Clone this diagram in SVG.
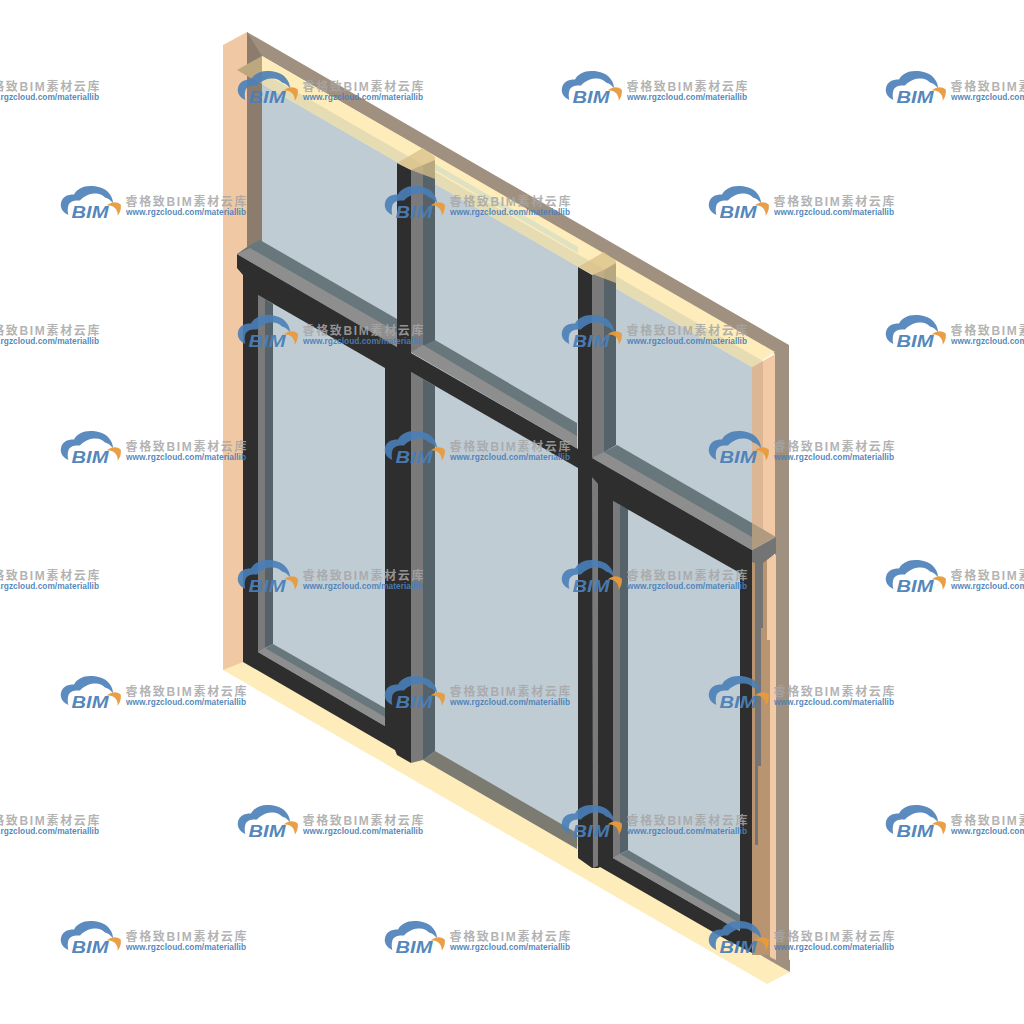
<svg xmlns="http://www.w3.org/2000/svg" width="1024" height="1024" viewBox="0 0 1024 1024">
<style>
.dark{fill:#2e2e2e}.gray{fill:#8e8e8e}.mgray{fill:#7a7a7a}.slate{fill:#566269}.band{fill:#68777c}
.wt{font-family:"Liberation Sans","Noto Sans CJK SC",sans-serif;font-weight:700}
</style>
<defs>
<g id="wm">
<path d="M7.300 30C1 27-1 22 0 18C1 12 6 9.500 13 9.500C16 4 22 1 29 1C38 1 46 3.500 50 11C51.500 14 52 16 52 18C49 15 47 13 44 12.500C41 9 37 8 33 8.500C27 9 22 12 19 15.500C14 15 9 16 7.500 20C6.500 23 6.500 27 7.300 30Z" fill="#4a7fb8" fill-opacity=".9"/>
<path d="M45.700 20.500C49 17.500 55 15.500 59.700 19.500C60.500 23 59 28 56.700 30.700C57 27 55.500 23.500 52 21.500C50 20.500 48 20.300 45.700 20.500Z" fill="#e89a3c" fill-opacity=".95"/>
<text class="wt" x="10.500" y="33" font-size="16.500" font-style="italic" fill="#4a7fb8" fill-opacity=".95" textLength="37" lengthAdjust="spacingAndGlyphs">BIM</text>
<text class="wt" x="64.500" y="21" font-size="12" fill="#a6a6a6" fill-opacity=".85" textLength="121">睿格致BIM素材云库</text>
<text class="wt" x="65" y="29.500" font-size="9.500" fill="#4a7fb8" fill-opacity=".95" textLength="120" lengthAdjust="spacingAndGlyphs">www.rgzcloud.com/materiallib</text>
</g>
</defs>
<rect width="1024" height="1024" fill="#fff"/>

<!-- glass -->
<polygon points="258,70 752,355 752,960 258,675" fill="#c0ccd4"/>

<!-- wall floor (yellow) and left face -->
<polygon points="223,670 243,655 790,968 790,972 767,984" fill="#feecba"/>
<polygon points="223,45 247,32 247,660 243,662 223,670" fill="#f0c9a4"/>

<!-- top of wall, jambs -->
<polygon points="247,32 789,345 789,971 775,963 775,354 262,56 262,250 247,250" fill="#a09080"/>
<polygon points="247,32 262,56 262,250 247,250" fill="#8b7c6e"/>
<polygon points="757,945 790,960 790,972 757,953" fill="#a09080"/>
<polygon points="262,56 775,352 752,367 262,84" fill="#feecba"/>
<polygon points="262,72 763,361 752,367 262,84" fill="#e6dcb4"/>
<polygon points="237,70 262,56 262,84 247,76" fill="#bda77f"/>

<!-- centre window sill -->
<polygon points="435,751 577,833 577,849 423,760" fill="#7b7b72"/>

<!-- upper mullions -->
<polygon points="397,163 411,170 411,360 397,360" class="dark"/>
<polygon points="411,170 423,165 423,352 411,352" class="mgray"/>
<polygon points="423,165 435,160 435,342 423,346" class="slate"/>
<polygon points="578,267 592,275 592,465 578,465" class="dark"/>
<polygon points="592,275 604,270 604,452 592,458" class="mgray"/>
<polygon points="604,270 616,263 616,445 604,452" class="slate"/>

<!-- translucent head over mullions -->
<polygon points="397,163 423,148 435,157 435,179 411,170" fill="#d8c088" fill-opacity=".75"/>
<polygon points="578,267 604,252 616,261 616,283 592,274" fill="#d8c088" fill-opacity=".75"/>
<polygon points="435,164 578,247 578,253 435,170" fill="#b8d4cc" fill-opacity=".45"/>

<!-- lower frame: left, centre, right -->
<polygon points="243,270 258,285 258,652 385,726 385,360 411,360 411,763 397,755 395,750 243,662" class="dark"/>
<polygon points="411,372 423,379 423,760 411,763" class="mgray"/>
<polygon points="423,379 435,386 435,751 423,760" class="slate"/>
<polygon points="578,460 592,470 592,868 578,858" class="dark"/>
<polygon points="592,470 598,470 598,868 592,868" class="dark"/>
<polygon points="598,475 613,495 613,858 740,931 740,560 752,552 752,953 727,940 600,867 598,868" class="dark"/>
<polygon points="592,477 598,480 598,866 593,868" class="mgray"/>

<!-- window reveals -->
<polygon points="258,295 265,299 265,648 258,652" class="mgray"/>
<polygon points="265,299 273,304 273,644 265,648" class="slate"/>
<polygon points="273,644 385,708 385,726 258,652" class="band"/>
<polygon points="265,648 385,717 385,726 258,652" class="gray"/>
<polygon points="613,501 620,505 620,854 613,858" class="mgray"/>
<polygon points="620,505 628,509 628,850 620,854" class="slate"/>
<polygon points="628,850 740,915 740,931 613,858" class="band"/>
<polygon points="620,854 740,923 740,931 613,858" class="gray"/>

<!-- transom -->
<polygon points="237,254 411,354 411,372 385,368 258,295 243,275 237,268" class="dark"/>
<polygon points="397,345 578,449 578,468 411,372" class="dark"/>
<polygon points="578,449 752,550 752,580 740,573 613,501 592,477 578,468" class="dark"/>
<polygon points="247,247 260,240 397,319 397,347 237,254" class="band"/>
<polygon points="250,248 397,332 397,347 237,254" class="gray"/>
<polygon points="435,340 577,423 577,448 411,352" class="band"/>
<polygon points="423,345 577,436 577,448 411,352" class="gray"/>
<polygon points="617,445 752,523 752,550 592,458" class="band"/>
<polygon points="604,452 752,537 752,550 592,458" class="gray"/>

<!-- right jamb -->
<polygon points="752,367 763,361 763,540 752,540" fill="#dcb795"/>
<polygon points="763,361 775,354 775,540 763,540" fill="#f2cba6"/>
<polygon points="752,523 776,537 752,550" fill="#b09a80"/>
<polygon points="752,555 771,555 771,955 752,955" fill="#b89570"/>
<polygon points="770,555 776,555 776,960 770,957" fill="#f2cba6"/>
<polygon points="767,558 770,558 770,640 767,640" fill="#f2cba6"/>
<polygon points="752,550 776,537 776,553 763,563 763,628 761,628 761,766 758,766 758,845 755,845 755,563 752,562" fill="#747474"/>

<!-- watermarks -->
<g id="watermarks">
<use href="#wm" x="-86" y="70"/><use href="#wm" x="238" y="70"/><use href="#wm" x="562" y="70"/><use href="#wm" x="886" y="70"/>
<use href="#wm" x="61" y="185"/><use href="#wm" x="385" y="185"/><use href="#wm" x="709" y="185"/>
<use href="#wm" x="-86" y="314"/><use href="#wm" x="238" y="314"/><use href="#wm" x="562" y="314"/><use href="#wm" x="886" y="314"/>
<use href="#wm" x="61" y="430"/><use href="#wm" x="385" y="430"/><use href="#wm" x="709" y="430"/>
<use href="#wm" x="-86" y="559"/><use href="#wm" x="238" y="559"/><use href="#wm" x="562" y="559"/><use href="#wm" x="886" y="559"/>
<use href="#wm" x="61" y="675"/><use href="#wm" x="385" y="675"/><use href="#wm" x="709" y="675"/>
<use href="#wm" x="-86" y="804"/><use href="#wm" x="238" y="804"/><use href="#wm" x="562" y="804"/><use href="#wm" x="886" y="804"/>
<use href="#wm" x="61" y="920"/><use href="#wm" x="385" y="920"/><use href="#wm" x="709" y="920"/>
</g>
</svg>
